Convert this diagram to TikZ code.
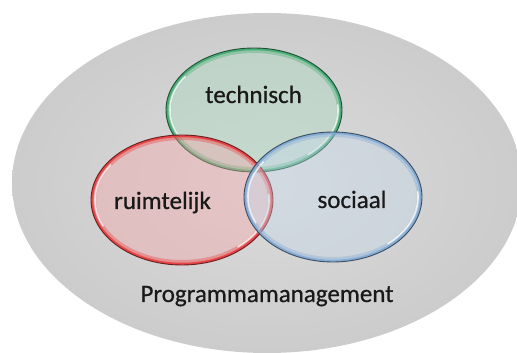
\documentclass[tikz,border=0pt]{standalone}
\usepackage{fontspec}
\setmainfont{Carlito}
\usepackage{tikz}
\usetikzlibrary{shapes.geometric, calc}
\definecolor{techgroen}{HTML}{3DAA6E}
\definecolor{ruimterood}{HTML}{E8383A}
\definecolor{sociaalblauw}{HTML}{7EA8D4}
\tikzset{
    kader/.style={ellipse, inner sep=0pt, outer sep=0pt, shade, inner color=gray!28, outer color=gray!40}, % grijze achtergrond
    ring/.style={ellipse, inner sep=0pt, outer sep=0pt, fill=#1!45, fill opacity=0.4,
        draw=#1!40!black, line width=0.9pt, draw opacity=0.9,
        path picture={
            \draw[draw=#1, line width=10pt, draw opacity=0.35] let \p1=(path picture bounding box.north east), \p2=(path picture bounding box.center)
                in (\p2) ellipse ({\x1-\x2} and {\y1-\y2});
            \draw[draw=#1, line width=4.5pt, draw opacity=0.85] let \p1=(path picture bounding box.north east), \p2=(path picture bounding box.center)
                in (\p2) ellipse ({\x1-\x2} and {\y1-\y2});
            \draw[white, line width=1.6pt, draw opacity=0.75, line cap=round] let \p1=(path picture bounding box.north east), \p2=(path picture bounding box.center)
                in (\p2) ++(205:{\x1-\x2-4} and {\y1-\y2-4}) arc[start angle=205, end angle=145, x radius={\x1-\x2-4}, y radius={\y1-\y2-4}]
                   (\p2) ++(-50:{\x1-\x2-4} and {\y1-\y2-4}) arc[start angle=-50, end angle=5, x radius={\x1-\x2-4}, y radius={\y1-\y2-4}];
        }}, % doorschijnende cirkel
    label/.style={anchor=base, text=black!90, font=\fontsize{25}{28}\selectfont\addfontfeature{FakeBold=0.6}}, % opschrift
}

\begin{document}
\begin{tikzpicture}[x=1pt, y=1pt]
    \useasboundingbox (0,0) rectangle (517,353);
    % Kader
    \node[kader, minimum width=510pt, minimum height=340pt] (programma) at (267,170) {};
    % Cirkels
    \node[ring=techgroen, minimum width=176pt, minimum height=124pt] (techniek) at (254,243) {};
    \node[ring=ruimterood, minimum width=182pt, minimum height=130pt] (ruimte) at (182,153) {};
    \node[ring=sociaalblauw, minimum width=178pt, minimum height=130pt] (sociaal) at (333,156) {};
    % Teksten
    \node[label] (techniektekst) at (253.5,250) {technisch};
    \node[label] (ruimtetekst) at (162.5,144) {ruimtelijk};
    \node[label] (sociaaltekst) at (352,145) {sociaal};
    \node[label] (programmatekst) at (267,51) {Programmamanagement};
\end{tikzpicture}
\end{document}
